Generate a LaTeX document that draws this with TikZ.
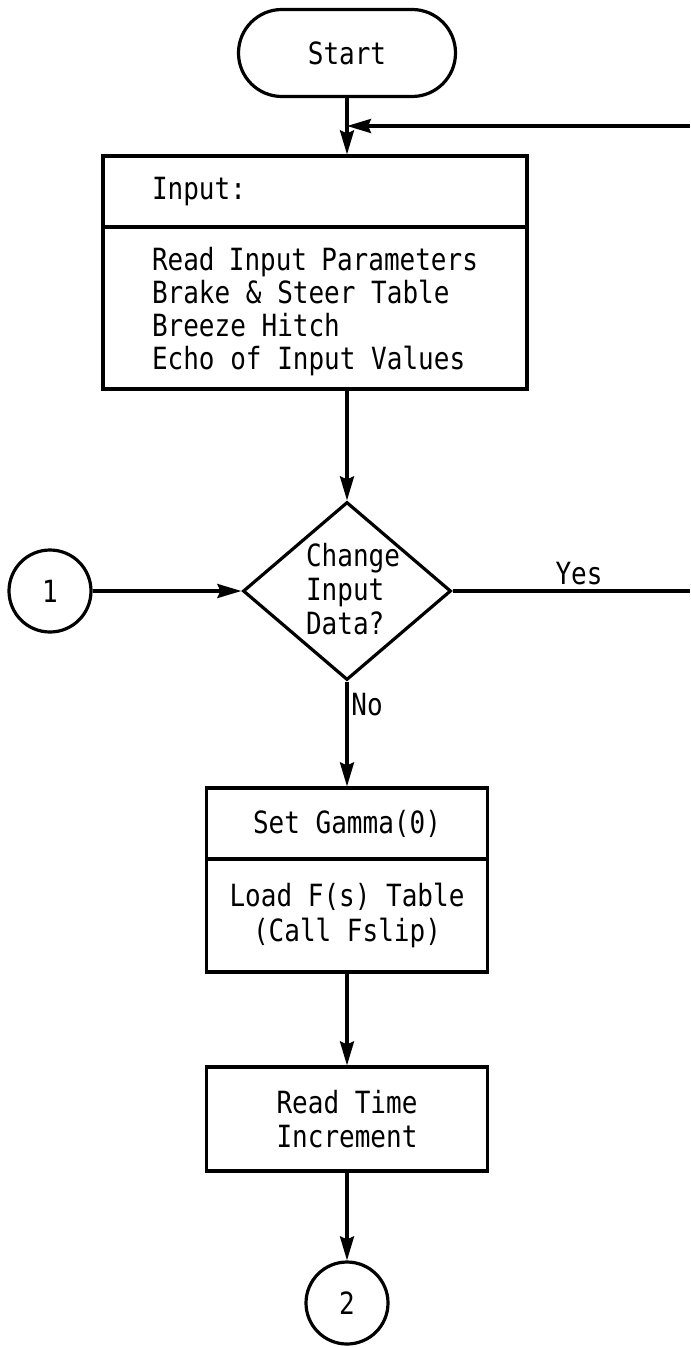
\documentclass[tikz,border=0pt]{standalone}
\usepackage{fontspec}
\setmainfont{DejaVu Sans Mono}[FakeStretch=0.85]
\usepackage{tikz}
\usetikzlibrary{arrows.meta, shapes.geometric}

\begin{document}
\begin{tikzpicture}[
        x=0.5pt, y=-0.5pt,
        % Define styles for consistency
        terminal/.style={
            rectangle,
            rounded corners=21.7pt,
            draw=black,
            line width=1.6pt,
            minimum width=108.5pt,
            minimum height=43.5pt,
            font=\fontsize{15.3}{16.8}\selectfont
        },
        block/.style={
            rectangle,
            draw=black,
            line width=1.6pt,
            minimum width=140.5pt,
            align=center,
            font=\fontsize{15.3}{17.2}\selectfont
        },
        inblock/.style={
            rectangle,
            draw=black,
            line width=1.6pt,
            minimum width=212pt,
            text width=163pt,
            inner xsep=24.5pt,
            align=left,
            execute at begin node={\spaceskip=0pt\xspaceskip=0pt\relax},
            font=\fontsize{15.3}{16.4}\selectfont
        },
        decision/.style={
            diamond,
            draw=black,
            line width=1.6pt,
            minimum width=104pt,
            minimum height=89pt,
            inner sep=0pt
        },
        conn/.style={
            circle,
            draw=black,
            line width=1.6pt,
            minimum size=41pt,
            inner sep=0pt,
            font=\fontsize{15.3}{16.8}\selectfont
        },
        txt/.style={
            inner sep=0pt,
            font=\fontsize{15.3}{17}\selectfont
        },
        line/.style={
            draw,
            line width=1.6pt,
            -{Stealth[length=12pt, width=7pt, inset=1.5pt]}
        },
        wire/.style={
            draw,
            line width=1.6pt
        }
    ]

    \fill[white] (0,0) rectangle (690,1347);
    \useasboundingbox (0,0) rectangle (690,1347);

    % --- START AND INPUT ---

    \node[terminal] (start) at (347,53) {Start};
    \coordinate (backin) at (690,126);

    \node[inblock, minimum height=35.5pt] (inhead) at (315,191.5) {Input:};
    \node[inblock, minimum height=81pt] (inbody) at (315,308)
        {\rule{0pt}{15pt}Read Input Parameters\\Brake \& Steer Table\\Breeze Hitch\\Echo of Input Values};

    \draw[line] (start) -- (start |- inhead.north);
    \draw[line] (backin) -- (backin -| start);

    % --- DECISION ---

    \node[decision] (change) at (347,591) {};
    \node[txt, align=left] (changetxt) at (353,589) {Change\\Input\\Data?};
    \node[conn] (con1) at (50,591) {1};
    \coordinate (exityes) at (690,591);

    \draw[line] (change |- inbody.south) -- (change.north);
    \draw[line] (con1) -- (change.west);
    \draw[wire] (change.east) -- (exityes);
    \node[txt] (yes) at (579,574) {Yes};

    % --- SET GAMMA AND TIME STEP ---

    \node[block, minimum height=35.5pt] (sethead) at (347,823.5) {Set Gamma(0)};
    \node[block, minimum height=56.5pt] (setbody) at (347,915.5) {Load F(s) Table\\(Call Fslip)};
    \node[block, minimum height=52pt] (readtime) at (347,1119) {Read Time\\Increment};
    \node[conn] (con2) at (347,1303) {2};

    \draw[line] (change.south) -- (sethead.north);
    \node[txt, anchor=west] (no) at (351,705) {No};
    \draw[line] (setbody) -- (readtime);
    \draw[line] (readtime) -- (con2);

\end{tikzpicture}
\end{document}
